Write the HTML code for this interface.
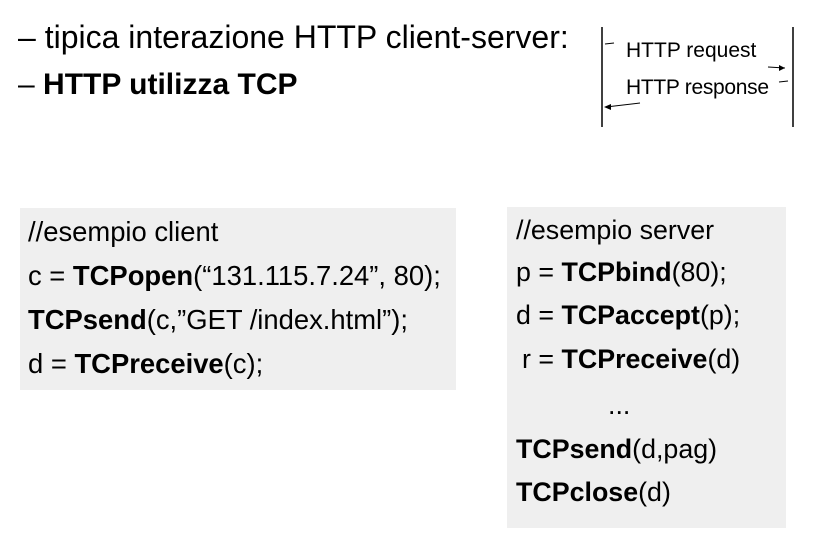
<!DOCTYPE html>
<html><head><style>
body{margin:0;width:828px;height:536px;background:#fff;position:relative;overflow:hidden;font-family:"Liberation Sans",sans-serif;color:#000}
.t{position:absolute;white-space:nowrap}
.box{position:absolute;background:#efefef}
.c{position:absolute;font-size:27.4px;white-space:nowrap;line-height:30px}
.s{font-size:26.8px}
</style></head><body>
<div class="t" style="left:18px;top:18px;font-size:32px;line-height:38px">– tipica interazione HTTP client-server:</div>
<div class="t" style="left:18px;top:66px;font-size:30px;line-height:38px">– <b>HTTP utilizza TCP</b></div>
<svg style="position:absolute;left:0;top:0" width="828" height="536">
<line x1="602" y1="27" x2="602" y2="127" stroke="#000" stroke-width="1.5"/>
<line x1="793" y1="27" x2="793" y2="127" stroke="#000" stroke-width="1.5"/>
<line x1="605" y1="44" x2="614" y2="43" stroke="#000"/>
<line x1="768" y1="67" x2="785" y2="68" stroke="#000"/>
<polygon points="785,68 779,65 779,71" fill="#000"/>
<line x1="779" y1="82" x2="788" y2="81" stroke="#000"/>
<line x1="640" y1="103" x2="606" y2="107" stroke="#000"/>
<polygon points="604,107 611,104 611,110" fill="#000"/>
<text x="626" y="57" font-family="Liberation Sans" font-size="21">HTTP request</text>
<text x="626" y="94" font-family="Liberation Sans" font-size="21" textLength="143">HTTP response</text>
</svg>
<div class="box" style="left:20px;top:208px;width:436px;height:182px"></div>
<div class="box" style="left:507px;top:207px;width:279px;height:321px"></div>
<div class="c" style="left:28px;top:217px">//esempio client</div>
<div class="c" style="left:28px;top:261px">c = <b>TCPopen</b>(“131.115.7.24”, 80);</div>
<div class="c" style="left:28px;top:305px"><b>TCPsend</b>(c,”GET /index.html”);</div>
<div class="c" style="left:28px;top:349px">d = <b>TCPreceive</b>(c);</div>
<div class="c s" style="left:516px;top:215px">//esempio server</div>
<div class="c s" style="left:516px;top:257px">p = <b>TCPbind</b>(80);</div>
<div class="c s" style="left:516px;top:300px">d = <b>TCPaccept</b>(p);</div>
<div class="c s" style="left:522px;top:344px">r = <b>TCPreceive</b>(d)</div>
<div class="c s" style="left:608px;top:390px">...</div>
<div class="c s" style="left:516px;top:434px"><b>TCPsend</b>(d,pag)</div>
<div class="c s" style="left:516px;top:477px"><b>TCPclose</b>(d)</div>
</body></html>
